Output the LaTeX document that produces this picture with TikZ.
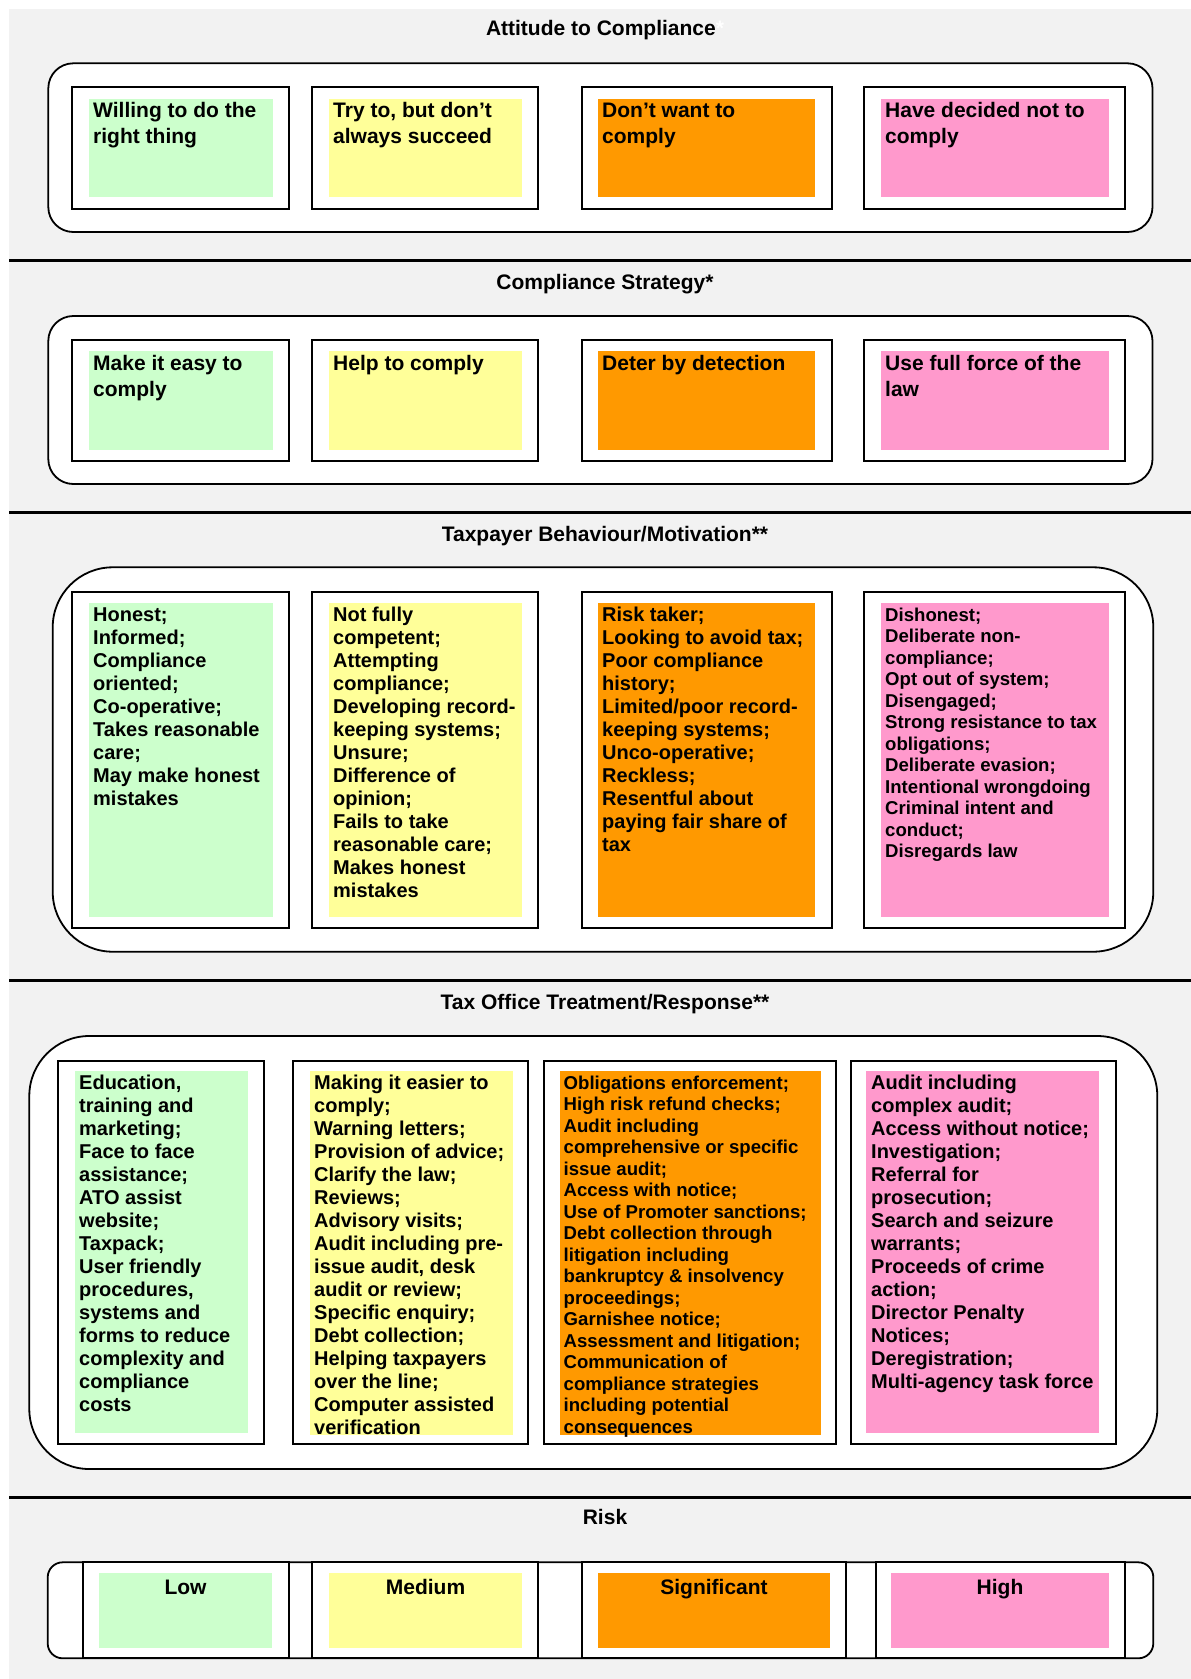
\documentclass[tikz,border=0pt]{standalone}
\usepackage{fontspec}
\setmainfont{Liberation Sans}
\definecolor{bgray}{HTML}{F2F2F2}
\definecolor{cgreen}{HTML}{CCFFCC}
\definecolor{cyellow}{HTML}{FFFF99}
\definecolor{corange}{HTML}{FF9900}
\definecolor{cpink}{HTML}{FF99CC}
\newcommand{\fstrut}{\rule{0pt}{16pt}}
\tikzset{
  outerbox/.style={draw=black, line width=1.8pt, fill=white},
  innerbox/.style={draw=black, line width=1.8pt, fill=white},
  sepline/.style={draw=black, line width=3pt},
  title/.style={font=\fontsize{21}{24}\selectfont\bfseries, anchor=base, inner sep=0pt},
  bigtxt/.style={font=\fontsize{21}{26}\selectfont\bfseries, align=left, anchor=north west, inner sep=0pt},
  midtxt/.style={font=\fontsize{20}{23}\selectfont\bfseries, align=left, anchor=north west, inner sep=0pt},
  smalltxt/.style={font=\fontsize{18.6}{21.5}\selectfont\bfseries, align=left, anchor=north west, inner sep=0pt},
  risktxt/.style={font=\fontsize{21}{24}\selectfont\bfseries, anchor=base, inner sep=0pt},
}
\begin{document}
\begin{tikzpicture}[x=1pt,y=-1pt]
\useasboundingbox (0,0) rectangle (1191,1679);
\fill[bgray] (9,9) rectangle (1191,1679);

% separators
\draw[sepline] (9,260.5) -- (1191,260.5);
\draw[sepline] (9,512.5) -- (1191,512.5);
\draw[sepline] (9,980) -- (1191,980);
\draw[sepline] (9,1497.7) -- (1191,1497.7);

% ---------------- Section 1: Attitude to Compliance
\node[title] (t1) at (605,35.5) {Attitude to Compliance\textcolor{white}{*}};
\draw[outerbox, rounded corners=25pt] (48.3,63.3) rectangle (1152.5,232);
\foreach \a/\b in {71.7/289, 312/538, 582/832, 864/1125}
  \draw[innerbox] (\a,87.3) rectangle (\b,209);
\fill[cgreen] (89,99) rectangle (273,197);
\fill[cyellow] (329,99) rectangle (522,197);
\fill[corange] (598,99) rectangle (815,197);
\fill[cpink] (881,99) rectangle (1109,197);
\node[bigtxt] (a1) at (93,101.5) {\fstrut Willing to do the\\right thing};
\node[bigtxt] (a2) at (333,101.5) {\fstrut Try to, but don’t\\always succeed};
\node[bigtxt] (a3) at (602,101.5) {\fstrut Don’t want to\\comply};
\node[bigtxt] (a4) at (885,101.5) {\fstrut Have decided not to\\comply};

% ---------------- Section 2: Compliance Strategy
\node[title] (t2) at (605,289) {Compliance Strategy*};
\draw[outerbox, rounded corners=25pt] (48.3,316) rectangle (1152.5,484);
\foreach \a/\b in {71.7/289, 312/538, 582/832, 864/1125}
  \draw[innerbox] (\a,340) rectangle (\b,461);
\fill[cgreen] (89,351) rectangle (273,450);
\fill[cyellow] (329,351) rectangle (522,450);
\fill[corange] (598,351) rectangle (815,450);
\fill[cpink] (881,351) rectangle (1109,450);
\node[bigtxt] (b1) at (93,354.5) {\fstrut Make it easy to\\comply};
\node[bigtxt] (b2) at (333,354.5) {\fstrut Help to comply};
\node[bigtxt] (b3) at (602,354.5) {\fstrut Deter by detection};
\node[bigtxt] (b4) at (885,354.5) {\fstrut Use full force of the\\law};

% ---------------- Section 3: Taxpayer Behaviour/Motivation
\node[title] (t3) at (605,541) {Taxpayer Behaviour/Motivation**};
\draw[outerbox, rounded corners=60pt] (52.7,567.3) rectangle (1153.3,951.7);
\foreach \a/\b in {71.7/289, 312/538, 582/832, 864/1125}
  \draw[innerbox] (\a,592.3) rectangle (\b,928.3);
\fill[cgreen] (89,603.3) rectangle (273,917.3);
\fill[cyellow] (329,603.3) rectangle (522,917.3);
\fill[corange] (598,603.3) rectangle (815,917.3);
\fill[cpink] (881,603.3) rectangle (1109,917.3);
\node[midtxt] (c1) at (93,605) {\fstrut Honest;\\Informed;\\Compliance\\oriented;\\Co-operative;\\Takes reasonable\\care;\\May make honest\\mistakes};
\node[midtxt] (c2) at (333,605) {\fstrut Not fully\\competent;\\Attempting\\compliance;\\Developing record-\\keeping systems;\\Unsure;\\Difference of\\opinion;\\Fails to take\\reasonable care;\\Makes honest\\mistakes};
\node[midtxt] (c3) at (602,605) {\fstrut Risk taker;\\Looking to avoid tax;\\Poor compliance\\history;\\Limited/poor record-\\keeping systems;\\Unco-operative;\\Reckless;\\Resentful about\\paying fair share of\\tax};
\node[smalltxt] (c4) at (885,605) {\fstrut Dishonest;\\Deliberate non-\\compliance;\\Opt out of system;\\Disengaged;\\Strong resistance to tax\\obligations;\\Deliberate evasion;\\Intentional wrongdoing\\Criminal intent and\\conduct;\\Disregards law};

% ---------------- Section 4: Tax Office Treatment/Response
\node[title] (t4) at (605,1009.3) {Tax Office Treatment/Response**};
\draw[outerbox, rounded corners=60pt] (29.3,1036) rectangle (1157.3,1469);
\foreach \a/\b in {58.3/264, 293/528, 544/836, 851/1115.7}
  \draw[innerbox] (\a,1060.7) rectangle (\b,1444.3);
\fill[cgreen] (75,1070.7) rectangle (248,1433.3);
\fill[cyellow] (310,1070.7) rectangle (513,1434.5);
\fill[corange] (560,1070.7) rectangle (821,1434.5);
\fill[cpink] (866,1070.7) rectangle (1099,1433.3);
\node[midtxt] (d1) at (79,1073) {\fstrut Education,\\training and\\marketing;\\Face to face\\assistance;\\ATO assist\\website;\\Taxpack;\\User friendly\\procedures,\\systems and\\forms to reduce\\complexity and\\compliance\\costs};
\node[midtxt] (d2) at (314,1073) {\fstrut Making it easier to\\comply;\\Warning letters;\\Provision of advice;\\Clarify the law;\\Reviews;\\Advisory visits;\\Audit including pre-\\issue audit, desk\\audit or review;\\Specific enquiry;\\Debt collection;\\Helping taxpayers\\over the line;\\Computer assisted\\verification};
\node[smalltxt] (d3) at (563.5,1073) {\fstrut Obligations enforcement;\\High risk refund checks;\\Audit including\\comprehensive or specific\\issue audit;\\Access with notice;\\Use of Promoter sanctions;\\Debt collection through\\litigation including\\bankruptcy \& insolvency\\proceedings;\\Garnishee notice;\\Assessment and litigation;\\Communication of\\compliance strategies\\including potential\\consequences};
\node[midtxt] (d4) at (871,1073) {\fstrut Audit including\\complex audit;\\Access without notice;\\Investigation;\\Referral for\\prosecution;\\Search and seizure\\warrants;\\Proceeds of crime\\action;\\Director Penalty\\Notices;\\Deregistration;\\Multi-agency task force};

% ---------------- Section 5: Risk
\node[title] (t5) at (605,1524.3) {Risk};
\draw[outerbox, rounded corners=15pt] (47.7,1562.3) rectangle (1153.3,1658.3);
\foreach \a/\b in {82.7/289, 312/538, 582/846, 876/1125}
  \draw[innerbox] (\a,1562.3) rectangle (\b,1658.3);
\fill[cgreen] (99,1573.3) rectangle (272,1647.7);
\fill[cyellow] (329,1573.3) rectangle (522,1647.7);
\fill[corange] (598,1573.3) rectangle (830,1647.7);
\fill[cpink] (891,1573.3) rectangle (1109,1647.7);
\node[risktxt] (r1) at (185.5,1594) {Low};
\node[risktxt] (r2) at (425.5,1594) {Medium};
\node[risktxt] (r3) at (714,1594) {Significant};
\node[risktxt] (r4) at (1000,1594) {High};
\end{tikzpicture}
\end{document}
